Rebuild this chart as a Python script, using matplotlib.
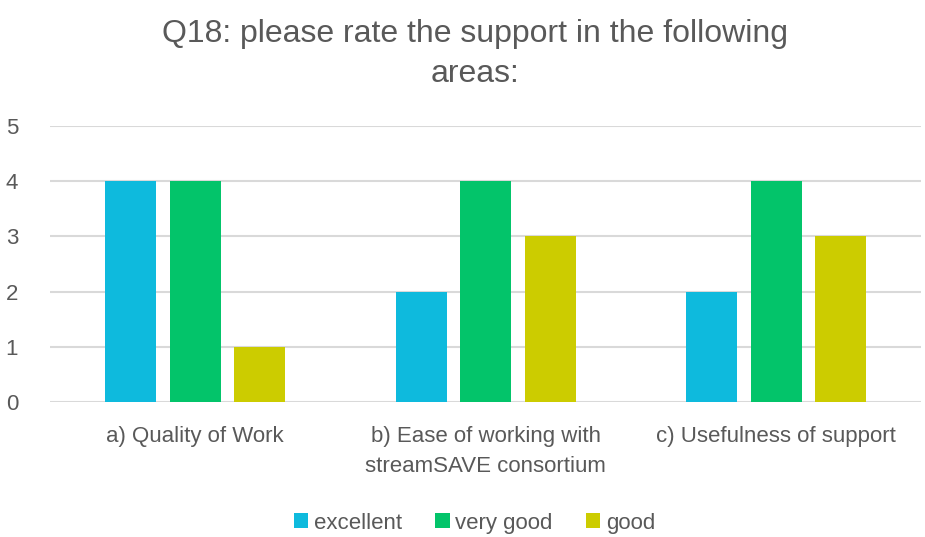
import numpy as np
import matplotlib
matplotlib.use("Agg")
import matplotlib.pyplot as plt
from matplotlib import font_manager

# narrow sans if available, otherwise plain Liberation Sans
names = {f.name for f in font_manager.fontManager.ttflist}
fam = "Liberation Sans Narrow" if "Liberation Sans Narrow" in names else "Liberation Sans"
plt.rcParams['font.family'] = [fam, 'DejaVu Sans']

categories = ["a) Quality of Work",
              "b) Ease of working with\nstreamSAVE consortium",
              "c) Usefulness of support"]
series = ["excellent", "very good", "good"]
excellent = [4, 2, 2]
very_good = [4, 4, 4]
good = [1, 3, 3]
colors = ["#0EBADD", "#03C46A", "#CCCC00"]

txt = "#595959"
fig = plt.figure(figsize=(9.25, 5.37), dpi=100)
ax = fig.add_axes([0.054, 0.2514, 0.942, 0.514])

x = np.arange(len(categories))
w = 0.176
off = 0.222
for i, (vals, name) in enumerate(zip([excellent, very_good, good], series)):
    ax.bar(x + (i - 1) * off, vals, w, color=colors[i], label=name, zorder=3)

ax.set_xlim(-0.5, 2.5)
ax.set_ylim(0, 5)
ax.set_yticks(range(6))
ax.grid(axis='y', color='#D9D9D9', linewidth=1.5, zorder=0)
for s in ax.spines.values():
    s.set_visible(False)
ax.tick_params(axis='y', length=0, labelsize=16, labelcolor=txt, pad=23)
ax.tick_params(axis='x', length=0, labelsize=16, labelcolor=txt, pad=17)
ax.set_xticks(x)
ax.set_xticklabels(categories, linespacing=1.6)

fig.text(0.513, 0.965, "Q18: please rate the support in the following\nareas:",
         ha='center', va='top', fontsize=23, color=txt, linespacing=1.45)

fig.legend(loc='center', bbox_to_anchor=(0.513, 0.026), ncol=3, frameon=False,
           fontsize=16, labelcolor=txt, handlelength=0.65, handleheight=0.65,
           handletextpad=0.25, columnspacing=1.5)

fig.savefig("out.png", dpi=100)
